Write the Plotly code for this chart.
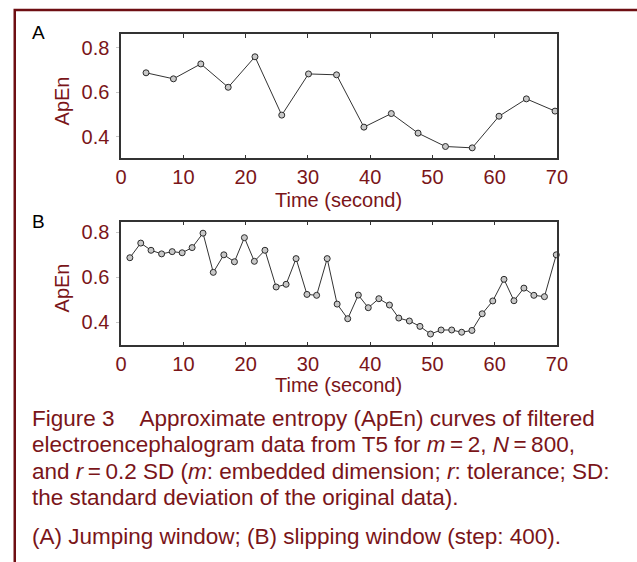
import plotly.graph_objects as go

W, H = 637, 562

# Panel A: jumping window
time_a = [4.0, 8.4, 12.8, 17.2, 21.5, 25.8, 30.1, 34.6, 39.0, 43.4, 47.7, 52.1,
          56.4, 60.7, 65.1, 69.7]
apen_a = [0.687, 0.660, 0.727, 0.622, 0.759, 0.497, 0.682, 0.678, 0.443, 0.504,
          0.416, 0.356, 0.350, 0.492, 0.570, 0.515]

# Panel B: slipping window (step 400)
time_b = [1.4, 3.15, 4.8, 6.5, 8.2, 9.8, 11.4, 13.15, 14.8, 16.5, 18.2, 19.8,
          21.4, 23.1, 24.9, 26.5, 28.1, 29.85, 31.4, 33.1, 34.7, 36.4, 38.1,
          39.7, 41.4, 43.1, 44.6, 46.3, 48.0, 49.7, 51.4, 53.1, 54.7, 56.35,
          58.0, 59.7, 61.5, 63.1, 64.7, 66.3, 68.0, 69.9]
apen_b = [0.687, 0.752, 0.720, 0.704, 0.714, 0.709, 0.732, 0.796, 0.622, 0.700,
          0.669, 0.776, 0.671, 0.720, 0.557, 0.569, 0.683, 0.524, 0.520, 0.683,
          0.481, 0.416, 0.521, 0.465, 0.505, 0.477, 0.419, 0.406, 0.382, 0.348,
          0.366, 0.366, 0.356, 0.364, 0.438, 0.495, 0.591, 0.496, 0.552, 0.520,
          0.514, 0.700]

x_ticks = [0, 10, 20, 30, 40, 50, 60, 70]
y_ticks = [0.4, 0.6, 0.8]
y_tick_text = ["0.4", "0.6", "0.8"]

caption_lines = [
    "Figure 3\u00a0\u00a0\u00a0\u00a0Approximate entropy (ApEn) curves of filtered",
    "electroencephalogram data from T5 for <i>m</i>\u2009=\u20092, <i>N</i>\u2009=\u2009800,",
    "and <i>r</i>\u2009=\u20090.2 SD (<i>m</i>: embedded dimension; <i>r</i>: tolerance; SD:",
    "the standard deviation of the original data).",
    "(A) Jumping window; (B) slipping window (step: 400).",
]

FONT = "Arial, 'Liberation Sans', sans-serif"
RED = "#7a1519"
FRAME = "#6e0e12"
AXIS = "#333333"


def px_x(p):
    return p / W


def px_y(p):
    return 1 - p / H


marker = dict(symbol="circle", size=6, color="#c8c8c8",
              line=dict(color="#2a2a2a", width=1))
line = dict(color="#333333", width=1)

fig = go.Figure()
fig.add_trace(go.Scatter(x=time_a, y=apen_a, mode="lines+markers",
                         line=line, marker=marker, xaxis="x", yaxis="y",
                         showlegend=False, cliponaxis=False))
fig.add_trace(go.Scatter(x=time_b, y=apen_b, mode="lines+markers",
                         line=line, marker=marker, xaxis="x2", yaxis="y2",
                         showlegend=False, cliponaxis=False))

xdom = [px_x(118.3), px_x(566)]
dom_a = [px_y(158.3), px_y(34.3)]
dom_b = [px_y(345.3), px_y(221.7)]
range_a = [0.303, 0.860]
range_b = [0.298, 0.847]

xaxis_common = dict(range=[0, 70], tickvals=x_ticks, ticks="inside", ticklen=4,
                    tickcolor=AXIS, showline=True, linecolor=AXIS, linewidth=1.5,
                    mirror="ticks", showgrid=False, zeroline=False,
                    tickfont=dict(family=FONT, size=20, color=RED))
yaxis_common = dict(tickvals=y_ticks, ticktext=y_tick_text, ticks="outside",
                    ticklen=3, tickcolor="#c8c8c8", showline=True, linecolor=AXIS,
                    linewidth=1.5, mirror=True, showgrid=False, zeroline=False,
                    ticklabelstandoff=3,
                    tickfont=dict(family=FONT, size=20, color=RED))
right_ticks = dict(tickvals=y_ticks, ticks="inside", ticklen=4, tickcolor=AXIS,
                   showline=False, showticklabels=False, showgrid=False,
                   zeroline=False, side="right")

fig.update_layout(
    width=W, height=H, margin=dict(l=0, r=0, t=0, b=0),
    paper_bgcolor="white", plot_bgcolor="white",
    xaxis=dict(domain=xdom, anchor="y", **xaxis_common),
    yaxis=dict(domain=dom_a, range=range_a, anchor="x", **yaxis_common),
    xaxis2=dict(domain=xdom, anchor="y2", **xaxis_common),
    yaxis2=dict(domain=dom_b, range=range_b, anchor="x2", **yaxis_common),
    yaxis3=dict(overlaying="y", anchor="x", range=range_a, **right_ticks),
    yaxis4=dict(overlaying="y2", anchor="x2", range=range_b, **right_ticks),
)

# Figure frame (open on the right and bottom edges of the page)
fig.add_shape(type="rect", xref="paper", yref="paper",
              x0=px_x(9), x1=px_x(W + 20), y0=px_y(H + 20), y1=px_y(10),
              line=dict(color=FRAME, width=2.5), fillcolor="rgba(0,0,0,0)",
              layer="above")

annotations = []


def add_text(text, x, y, size, color, xanchor="center", angle=0):
    annotations.append(dict(text=text, xref="paper", yref="paper",
                            x=px_x(x), y=px_y(y), xanchor=xanchor, yanchor="middle",
                            showarrow=False, textangle=angle,
                            borderpad=0, borderwidth=0,
                            font=dict(family=FONT, size=size, color=color)))


# Panel letters
add_text("A", 27, 33, 19, "black", xanchor="left")
add_text("B", 27, 221, 19, "black", xanchor="left")

# Axis titles
add_text("ApEn", 58, 101, 20, RED, angle=-90)
add_text("ApEn", 58, 288, 20, RED, angle=-90)
add_text("Time (second)", 342, 200, 20, RED)
add_text("Time (second)", 342, 385, 20, RED)

# Caption
for txt, yy in zip(caption_lines, [418, 444.5, 471, 497.5, 536.5]):
    add_text(txt, 27, yy, 22.5, RED, xanchor="left")

fig.update_layout(annotations=annotations)

fig.write_html("out.html")
